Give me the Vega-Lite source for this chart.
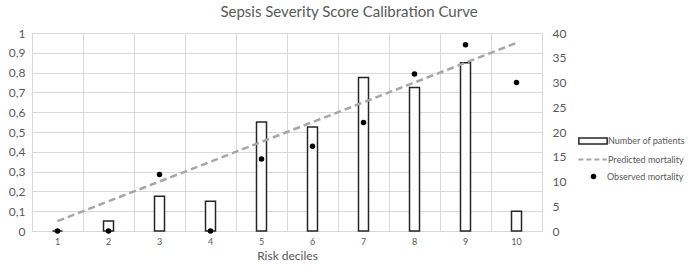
{
  "$schema": "https://vega.github.io/schema/vega-lite/v6.json",
  "width": 510,
  "height": 198,
  "autosize": {"type": "none"},
  "padding": {"left": 32, "top": 33, "right": 146, "bottom": 38},
  "title": {
    "text": "Sepsis Severity Score Calibration Curve",
    "font": "Lato",
    "fontSize": 15,
    "fontWeight": "normal",
    "color": "#595959",
    "dx": 62,
    "offset": 7
  },
  "data": {
    "values": [
      {"decile": 1, "patients": 0, "predicted": 0.05, "observed": 0},
      {"decile": 2, "patients": 2, "predicted": 0.15, "observed": 0},
      {"decile": 3, "patients": 7, "predicted": 0.25, "observed": 0.2857},
      {"decile": 4, "patients": 6, "predicted": 0.35, "observed": 0},
      {"decile": 5, "patients": 22, "predicted": 0.45, "observed": 0.3636},
      {"decile": 6, "patients": 21, "predicted": 0.55, "observed": 0.4286},
      {"decile": 7, "patients": 31, "predicted": 0.65, "observed": 0.5484},
      {"decile": 8, "patients": 29, "predicted": 0.75, "observed": 0.7931},
      {"decile": 9, "patients": 34, "predicted": 0.85, "observed": 0.9412},
      {"decile": 10, "patients": 4, "predicted": 0.95, "observed": 0.75}
    ]
  },
  "encoding": {
    "x": {
      "field": "decile",
      "type": "ordinal",
      "scale": {"paddingInner": 0, "paddingOuter": 0},
      "axis": {
        "title": "Risk deciles",
        "titleFont": "Lato",
        "titleFontSize": 12,
        "titleFontWeight": "normal",
        "titleColor": "#595959",
        "titlePadding": 4,
        "labelAngle": 0,
        "labelFont": "Lato",
        "labelFontSize": 9,
        "labelColor": "#595959",
        "labelPadding": 6,
        "ticks": false,
        "domain": true,
        "domainColor": "#d9d9d9",
        "grid": true,
        "gridColor": "#d9d9d9",
        "bandPosition": 0
      }
    }
  },
  "layer": [
    {
      "mark": {"type": "bar", "width": 10, "fill": "white", "strokeWidth": 1.5},
      "encoding": {
        "y": {
          "field": "patients",
          "type": "quantitative",
          "scale": {"domain": [0, 40]},
          "axis": {
            "orient": "right",
            "title": null,
            "values": [0, 5, 10, 15, 20, 25, 30, 35, 40],
            "labelFont": "Lato",
            "labelFontSize": 12,
            "labelColor": "#595959",
            "labelPadding": 10,
            "ticks": false,
            "domain": false,
            "grid": false
          }
        },
        "stroke": {
          "datum": "Number of patients",
          "scale": {"range": ["#262626"]},
          "legend": {
            "title": null,
            "orient": "none",
            "legendX": 546,
            "legendY": 93,
            "symbolType": "M-1,-0.22H1V0.22H-1Z",
            "symbolSize": 800,
            "symbolFillColor": "white",
            "symbolStrokeWidth": 1.5,
            "labelFont": "Lato",
            "labelFontSize": 9,
            "labelColor": "#595959",
            "labelOffset": 0
          }
        }
      }
    },
    {
      "mark": {"type": "line", "strokeDash": [7, 4], "strokeWidth": 2.5},
      "encoding": {
        "y": {
          "field": "predicted",
          "type": "quantitative",
          "scale": {"domain": [0, 1]},
          "axis": {
            "orient": "left",
            "title": null,
            "values": [0, 0.1, 0.2, 0.3, 0.4, 0.5, 0.6, 0.7, 0.8, 0.9, 1],
            "labelExpr": "replace(format(datum.value, '.1~f'), '.', ',')",
            "labelFont": "Lato",
            "labelFontSize": 12,
            "labelColor": "#595959",
            "labelPadding": 7,
            "ticks": false,
            "domain": false,
            "grid": true,
            "gridColor": "#d9d9d9"
          }
        },
        "color": {
          "datum": "Predicted mortality",
          "scale": {"range": ["#a6a6a6"]},
          "legend": {
            "title": null,
            "orient": "none",
            "legendX": 545,
            "legendY": 111,
            "symbolType": "stroke",
            "symbolSize": 800,
            "symbolDash": [5, 3],
            "symbolStrokeWidth": 2,
            "labelFont": "Lato",
            "labelFontSize": 9,
            "labelColor": "#595959",
            "labelOffset": 0
          }
        }
      }
    },
    {
      "mark": {"type": "point", "filled": true, "size": 30, "opacity": 1},
      "encoding": {
        "y": {
          "field": "observed",
          "type": "quantitative",
          "scale": {"domain": [0, 1]},
          "axis": null
        },
        "fill": {
          "datum": "Observed mortality",
          "scale": {"range": ["black"]},
          "legend": {
            "title": null,
            "orient": "none",
            "legendX": 557,
            "legendY": 139,
            "symbolType": "circle",
            "symbolSize": 30,
            "symbolOpacity": 1,
            "labelFont": "Lato",
            "labelFontSize": 9,
            "labelColor": "#595959",
            "labelOffset": 9
          }
        }
      }
    }
  ],
  "resolve": {"scale": {"y": "independent"}},
  "config": {
    "view": {"stroke": "#d9d9d9"},
    "background": "white"
  }
}
